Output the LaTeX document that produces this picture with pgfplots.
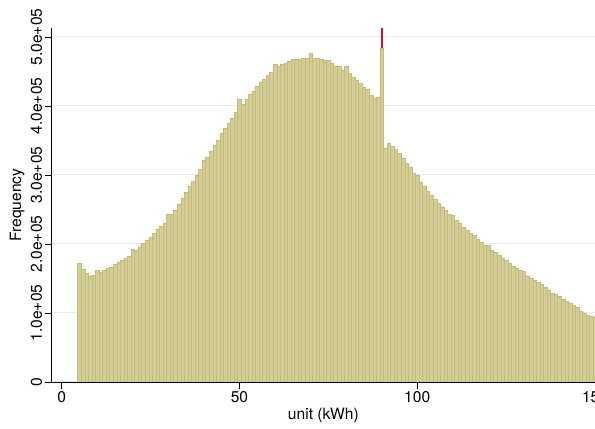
\documentclass[border=0pt]{standalone}
\usepackage{pgfplots}
\pgfplotsset{compat=1.18}
\usepackage{pgfplotstable}
\usepackage{fontspec}
\setmainfont{TeX Gyre Heros}
\definecolor{barfill}{RGB}{212,205,150}
\definecolor{baredge}{RGB}{194,186,126}
\definecolor{gridc}{RGB}{228,237,241}
\definecolor{redline}{RGB}{212,10,52}
\pgfplotstableread{
x y
5 172000
6 163000
7 157500
8 154000
9 155000
10 162000
11 159000
12 162000
13 165000
14 166500
15 170000
16 173000
17 177000
18 179000
19 182000
20 192000
21 191300
22 196000
23 201000
24 206000
25 210000
26 215500
27 221000
28 226000
29 230000
30 243500
31 243500
32 249000
33 258000
34 266000
35 275000
36 283000
37 291000
38 300000
39 309000
40 322000
41 326000
42 334000
43 343000
44 351000
45 360000
46 368000
47 375000
48 382000
49 391000
50 410000
51 403000
52 410000
53 417000
54 422000
55 429000
56 435000
57 439000
58 444000
59 449000
60 460000
61 457000
62 460000
63 462000
64 465000
65 467500
66 467500
67 467500
68 469500
69 469500
70 476000
71 469500
72 469000
73 467500
74 466000
75 466000
76 462000
77 458000
78 457000
79 452000
80 458000
81 447000
82 442000
83 438000
84 433000
85 427000
86 425000
87 416000
88 411000
89 413000
90 484000
91 339000
92 346000
93 341000
94 337000
95 331000
96 324000
97 317000
98 311000
99 302000
100 300000
101 290000
102 283000
103 277000
104 271000
105 265000
106 259000
107 254000
108 249000
109 243500
110 242000
111 234000
112 230000
113 224000
114 220000
115 216000
116 212000
117 207000
118 202500
119 198000
120 198000
121 191000
122 187500
123 183500
124 180000
125 176000
126 172000
127 168000
128 165000
129 162000
130 160000
131 154000
132 151000
133 148000
134 144000
135 141000
136 137000
137 133000
138 129000
139 127000
140 124000
141 120000
142 117000
143 114500
144 111500
145 108000
146 103000
147 100000
148 97000
149 95000
150 94000
}\histdata
\begin{document}
\begin{tikzpicture}
\begin{axis}[
  at={(0,0)}, anchor=south west,
  scale only axis, width=407.5pt, height=265.5pt,
  xmin=-2.8, xmax=150, ymin=0, ymax=513000,
  axis lines*=left,
  axis line style={line width=0.6pt, black},
  tick align=outside, major tick length=5pt,
  major tick style={line width=0.6pt, black},
  xtick={0,50,100,150}, xticklabels={0,50,100,150},
  ytick={0,100000,200000,300000,400000,500000},
  yticklabels={0,1.0e+05,2.0e+05,3.0e+05,4.0e+05,5.0e+05},
  scaled y ticks=false,
  ymajorgrids, major grid style={gridc, line width=0.8pt},
  font=\fontsize{11.7}{14}\selectfont,
  yticklabel style={rotate=90, anchor=south, inner sep=2pt},
  xticklabel style={anchor=north, inner sep=2pt},
  xlabel={unit (kWh)}, ylabel={Frequency},
  xlabel style={at={(axis description cs:0.5,0)}, anchor=center, yshift=-25.5pt},
  ylabel style={at={(axis description cs:0,0.5)}, anchor=center, yshift=26pt},
]
\addplot[color=redline, solid, line width=1.3pt, no marks, forget plot] coordinates {(90,0) (90,513000)};
\addplot[ybar, bar width=1, bar shift=0pt, fill=barfill, draw=baredge, line width=0.3pt] table[x=x, y=y] {\histdata};
\end{axis}
\pgfresetboundingbox
\useasboundingbox (-38.8pt,-35.25pt) rectangle (407.5pt,286.5pt);
\end{tikzpicture}
\end{document}
